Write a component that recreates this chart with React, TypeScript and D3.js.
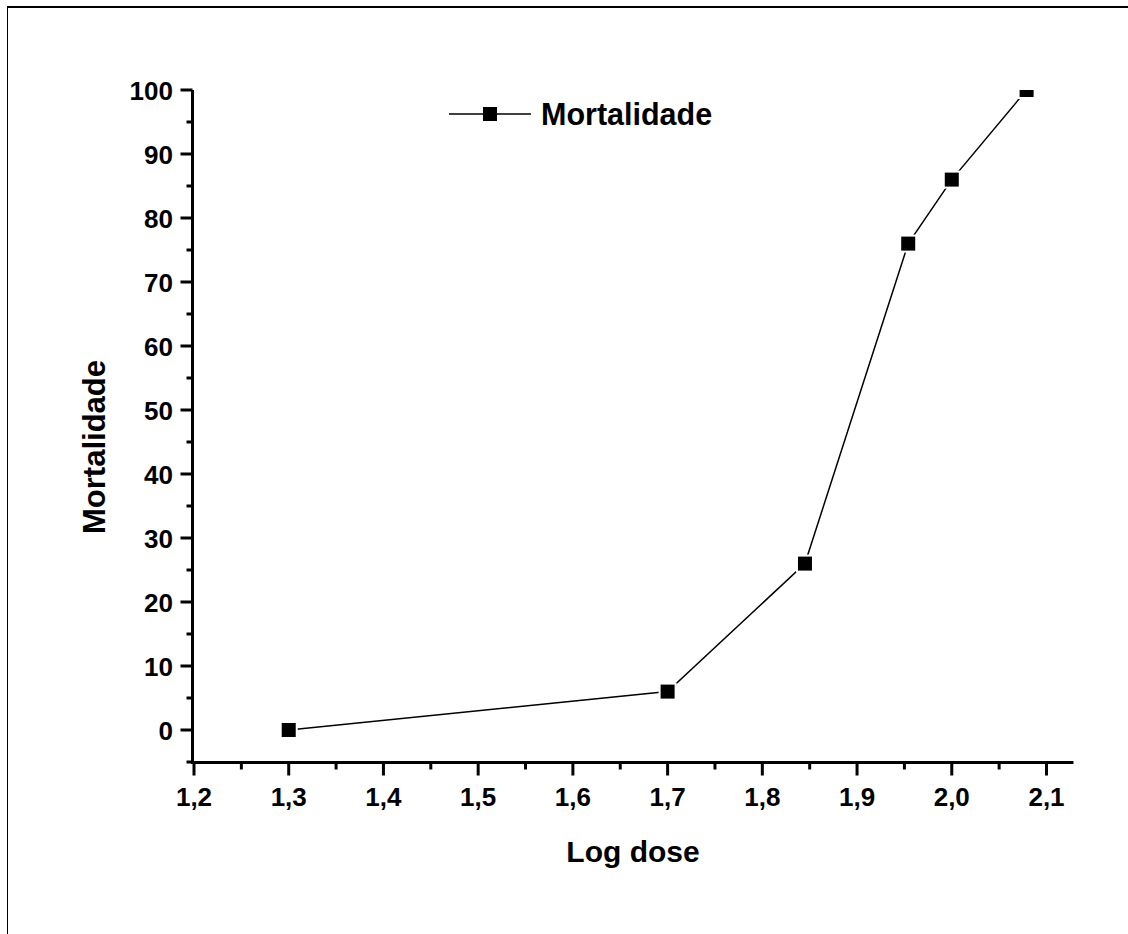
import React from "react";
import * as d3 from "d3";

const logDose = [1.3, 1.7, 1.845, 1.954, 2.0, 2.079];
const mortalidade = [0, 6, 26, 76, 86, 100];
const xTicks = [1.2, 1.3, 1.4, 1.5, 1.6, 1.7, 1.8, 1.9, 2.0, 2.1];
const yTicks = [0, 10, 20, 30, 40, 50, 60, 70, 80, 90, 100];
const seriesName = "Mortalidade";
const xTitle = "Log dose";
const yTitle = "Mortalidade";

export default function App() {
  const W = 1128, H = 934;
  const x = d3.scaleLinear().domain([1.2, 2.1]).range([194, 1046.5]);
  const y = d3.scaleLinear().domain([0, 100]).range([730, 90]);
  const xMax = 2.1285;
  const font = "'Liberation Sans', Arial, sans-serif";
  const fmt = (v: number) => v.toFixed(1).replace(".", ",");
  const xMinor = d3.range(1.25, 2.12, 0.1);
  const yMinor = d3.range(-5, 100, 10);
  const pts = logDose.map((d, i) => [x(d), y(mortalidade[i])] as [number, number]);
  const line = d3.line();
  const ms = 14;
  const yAxisX = 192.5;
  const xAxisY = 762.5;
  return (
    <svg width={W} height={H} style={{ position: "absolute", left: 0, top: 0, background: "#fff" }}>
      <rect x={0} y={0} width={W} height={H} fill="#fff" />
      <line x1={7} y1={7} x2={W} y2={7} stroke="#000" strokeWidth={2} />
      <line x1={7.5} y1={7} x2={7.5} y2={H} stroke="#000" strokeWidth={1} />
      <defs>
        <clipPath id="plot">
          <rect x={yAxisX} y={y(100)} width={x(xMax) - yAxisX} height={xAxisY - y(100)} />
        </clipPath>
      </defs>
      <line x1={yAxisX} y1={y(100)} x2={yAxisX} y2={xAxisY + 1.5} stroke="#000" strokeWidth={3} />
      <line x1={yAxisX - 1.5} y1={xAxisY} x2={x(xMax)} y2={xAxisY} stroke="#000" strokeWidth={3} />
      {yTicks.map((t) => (
        <g key={"y" + t}>
          <line x1={yAxisX - 12} x2={yAxisX} y1={y(t)} y2={y(t)} stroke="#000" strokeWidth={3} />
          <text x={173} y={y(t) + 9.5} textAnchor="end" fontFamily={font} fontWeight="bold" fontSize={26}>
            {t}
          </text>
        </g>
      ))}
      {yMinor.map((t) => (
        <line key={"ym" + t} x1={yAxisX - 6} x2={yAxisX} y1={y(t)} y2={y(t)} stroke="#000" strokeWidth={3} />
      ))}
      {xTicks.map((t) => (
        <g key={"x" + t}>
          <line x1={x(t)} x2={x(t)} y1={xAxisY} y2={xAxisY + 13} stroke="#000" strokeWidth={3} />
          <text x={x(t)} y={806} textAnchor="middle" fontFamily={font} fontWeight="bold" fontSize={26}>
            {fmt(t)}
          </text>
        </g>
      ))}
      {xMinor.map((t) => (
        <line key={"xm" + t} x1={x(t)} x2={x(t)} y1={xAxisY} y2={xAxisY + 7} stroke="#000" strokeWidth={3} />
      ))}
      <text x={633} y={862} textAnchor="middle" fontFamily={font} fontWeight="bold" fontSize={30}>
        {xTitle}
      </text>
      <text
        transform={`translate(105, 447) rotate(-90)`}
        textAnchor="middle"
        fontFamily={font}
        fontWeight="bold"
        fontSize={31}
      >
        {yTitle}
      </text>
      <g clipPath="url(#plot)">
        <path d={line(pts) || ""} fill="none" stroke="#000" strokeWidth={1.5} />
        {pts.map(([px, py], i) => (
          <rect key={i} x={px - ms / 2} y={py - ms / 2} width={ms} height={ms} fill="#000" stroke="#fff" strokeWidth={4} paintOrder="stroke" />
        ))}
      </g>
      <line x1={449} x2={531} y1={114} y2={114} stroke="#000" strokeWidth={1.5} />
      <rect x={490 - ms / 2} y={114 - ms / 2} width={ms} height={ms} fill="#000" />
      <text x={541} y={125} fontFamily={font} fontWeight="bold" fontSize={30.5}>
        {seriesName}
      </text>
    </svg>
  );
}
